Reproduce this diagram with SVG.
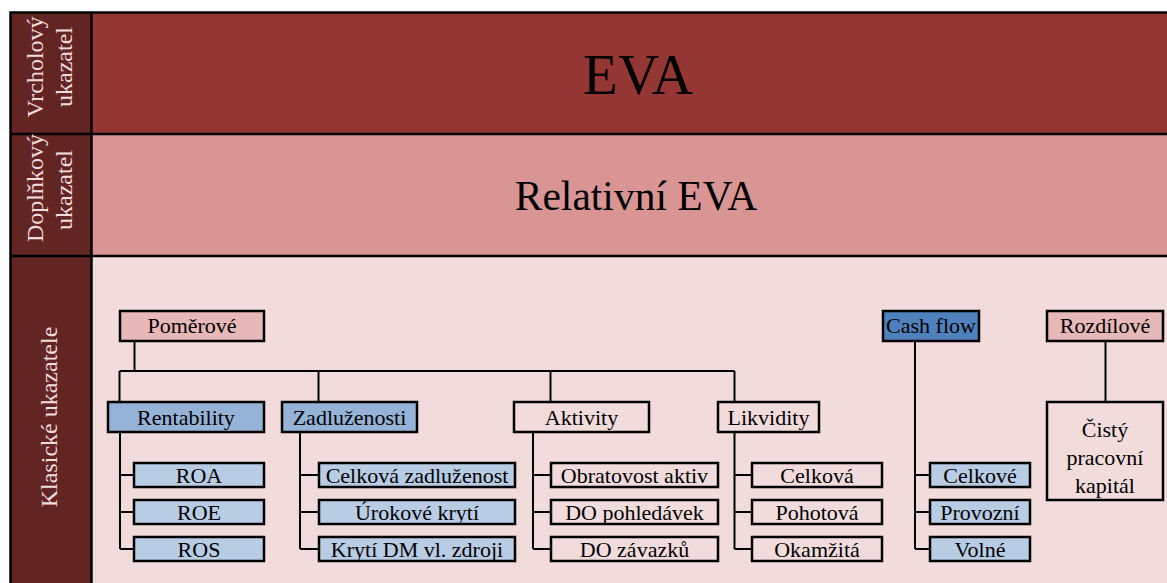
<svg xmlns="http://www.w3.org/2000/svg" width="1167" height="583" viewBox="0 0 1167 583">
<style>
text{font-family:"Liberation Serif","Times New Roman",serif;fill:#000}
.lbl{font-size:24px;fill:#F2DCDB;text-anchor:middle}
.n{font-size:22px;text-anchor:middle}
.box{stroke:#000;stroke-width:2.5}
.pink{fill:#E6B8B7}.blue{fill:#95B3D7}.lblue{fill:#B8CCE4}.dblue{fill:#4F81BD}.bg{fill:#F2DCDB}
.c{fill:none;stroke:#000;stroke-width:2}
</style>
<rect width="1167" height="583" fill="#ffffff"/>
<g id="frame">
<rect x="91" y="12" width="1076" height="122" fill="#943634"/>
<rect x="91" y="134" width="1076" height="122" fill="#D99594"/>
<rect x="91" y="256" width="1076" height="327" fill="#F2DCDB"/>
<rect x="10" y="12" width="81" height="571" fill="#632523"/>
<path d="M10.5,583 V12.5 H1167 M91.5,12.5 V583 M10.5,134 H1167 M10.5,256 H1167" fill="none" stroke="#000" stroke-width="2.5"/>
</g>
<g id="row-labels">
<text class="lbl" transform="rotate(-90)" x="-67" y="43">Vrcholový</text>
<text class="lbl" transform="rotate(-90)" x="-67" y="72">ukazatel</text>
<text class="lbl" transform="rotate(-90)" x="-188" y="43">Doplňkový</text>
<text class="lbl" transform="rotate(-90)" x="-190" y="72">ukazatel</text>
<text class="lbl" transform="rotate(-90)" x="-417" y="57">Klasické ukazatele</text>
</g>
<g id="eva"><text x="638" y="94" font-size="57" text-anchor="middle">EVA</text></g>
<g id="relativni-eva"><text x="636" y="210" font-size="41.5" text-anchor="middle">Relativní EVA</text></g>
<g id="connectors">
<path class="c" d="M134.5,341 V371 M119.5,371 H734.5 M119.5,371 V402 M318.5,371 V402 M550.5,371 V402 M734.5,371 V402"/>
<path class="c" d="M120,432 V549 M120,475 H134 M120,512 H134 M120,549 H134"/>
<path class="c" d="M300,432 V549 M300,475 H319 M300,512 H319 M300,549 H319"/>
<path class="c" d="M533,432 V549 M533,475 H551 M533,512 H551 M533,549 H551"/>
<path class="c" d="M734.5,432 V549 M734.5,475 H752 M734.5,512 H752 M734.5,549 H752"/>
<path class="c" d="M915,341 V549 M915,475 H930 M915,512 H930 M915,549 H930"/>
<path class="c" d="M1105.5,341 V402"/>
</g>
<g id="pomerove"><rect class="box pink" x="120" y="311" width="144" height="30"/><text class="n" x="192" y="333">Poměrové</text></g>
<g id="rentability"><rect class="box blue" x="108" y="402" width="156" height="30"/><text class="n" x="186" y="424.5">Rentability</text></g>
<g id="zadluzenosti"><rect class="box blue" x="282" y="402" width="135" height="30"/><text class="n" x="349.5" y="424.5">Zadluženosti</text></g>
<g id="aktivity"><rect class="box bg" x="514" y="402" width="135" height="30"/><text class="n" x="581.5" y="424.5">Aktivity</text></g>
<g id="likvidity"><rect class="box bg" x="718" y="402" width="101" height="30"/><text class="n" x="768.5" y="424.5">Likvidity</text></g>
<g id="roa"><rect class="box lblue" x="134" y="463" width="130" height="24"/><text class="n" x="199" y="482.5">ROA</text></g>
<g id="roe"><rect class="box lblue" x="134" y="500" width="130" height="24"/><text class="n" x="199" y="519.5">ROE</text></g>
<g id="ros"><rect class="box lblue" x="134" y="537" width="130" height="24"/><text class="n" x="199" y="556.5">ROS</text></g>
<g id="celkova-zadluzenost"><rect class="box lblue" x="319" y="463" width="196" height="24"/><text class="n" x="417" y="482.5">Celková zadluženost</text></g>
<g id="urokove-kryti"><rect class="box lblue" x="319" y="500" width="196" height="24"/><text class="n" x="417" y="519.5">Úrokové krytí</text></g>
<g id="kryti-dm"><rect class="box lblue" x="319" y="537" width="196" height="24"/><text class="n" x="417" y="556.5">Krytí DM vl. zdroji</text></g>
<g id="obratovost-aktiv"><rect class="box bg" x="551" y="463" width="167" height="24"/><text class="n" x="634.5" y="482.5">Obratovost aktiv</text></g>
<g id="do-pohledavek"><rect class="box bg" x="551" y="500" width="167" height="24"/><text class="n" x="634.5" y="519.5">DO pohledávek</text></g>
<g id="do-zavazku"><rect class="box bg" x="551" y="537" width="167" height="24"/><text class="n" x="634.5" y="556.5">DO závazků</text></g>
<g id="celkova"><rect class="box bg" x="752" y="463" width="130" height="24"/><text class="n" x="817" y="482.5">Celková</text></g>
<g id="pohotova"><rect class="box bg" x="752" y="500" width="130" height="24"/><text class="n" x="817" y="519.5">Pohotová</text></g>
<g id="okamzita"><rect class="box bg" x="752" y="537" width="130" height="24"/><text class="n" x="817" y="556.5">Okamžitá</text></g>
<g id="cash-flow"><rect class="box dblue" x="883" y="311" width="96" height="30"/><text class="n" x="931" y="333">Cash flow</text></g>
<g id="celkove"><rect class="box lblue" x="930" y="463" width="100" height="24"/><text class="n" x="980" y="482.5">Celkové</text></g>
<g id="provozni"><rect class="box lblue" x="930" y="500" width="100" height="24"/><text class="n" x="980" y="519.5">Provozní</text></g>
<g id="volne"><rect class="box lblue" x="930" y="537" width="100" height="24"/><text class="n" x="980" y="556.5">Volné</text></g>
<g id="rozdilove"><rect class="box pink" x="1047" y="311" width="116" height="30"/><text class="n" x="1105" y="333">Rozdílové</text></g>
<g id="cisty-pracovni-kapital"><rect class="box bg" x="1047" y="402" width="116" height="98"/><text class="n" x="1105" y="437">Čistý</text><text class="n" x="1105" y="465">pracovní</text><text class="n" x="1105" y="493">kapitál</text></g>
</svg>
